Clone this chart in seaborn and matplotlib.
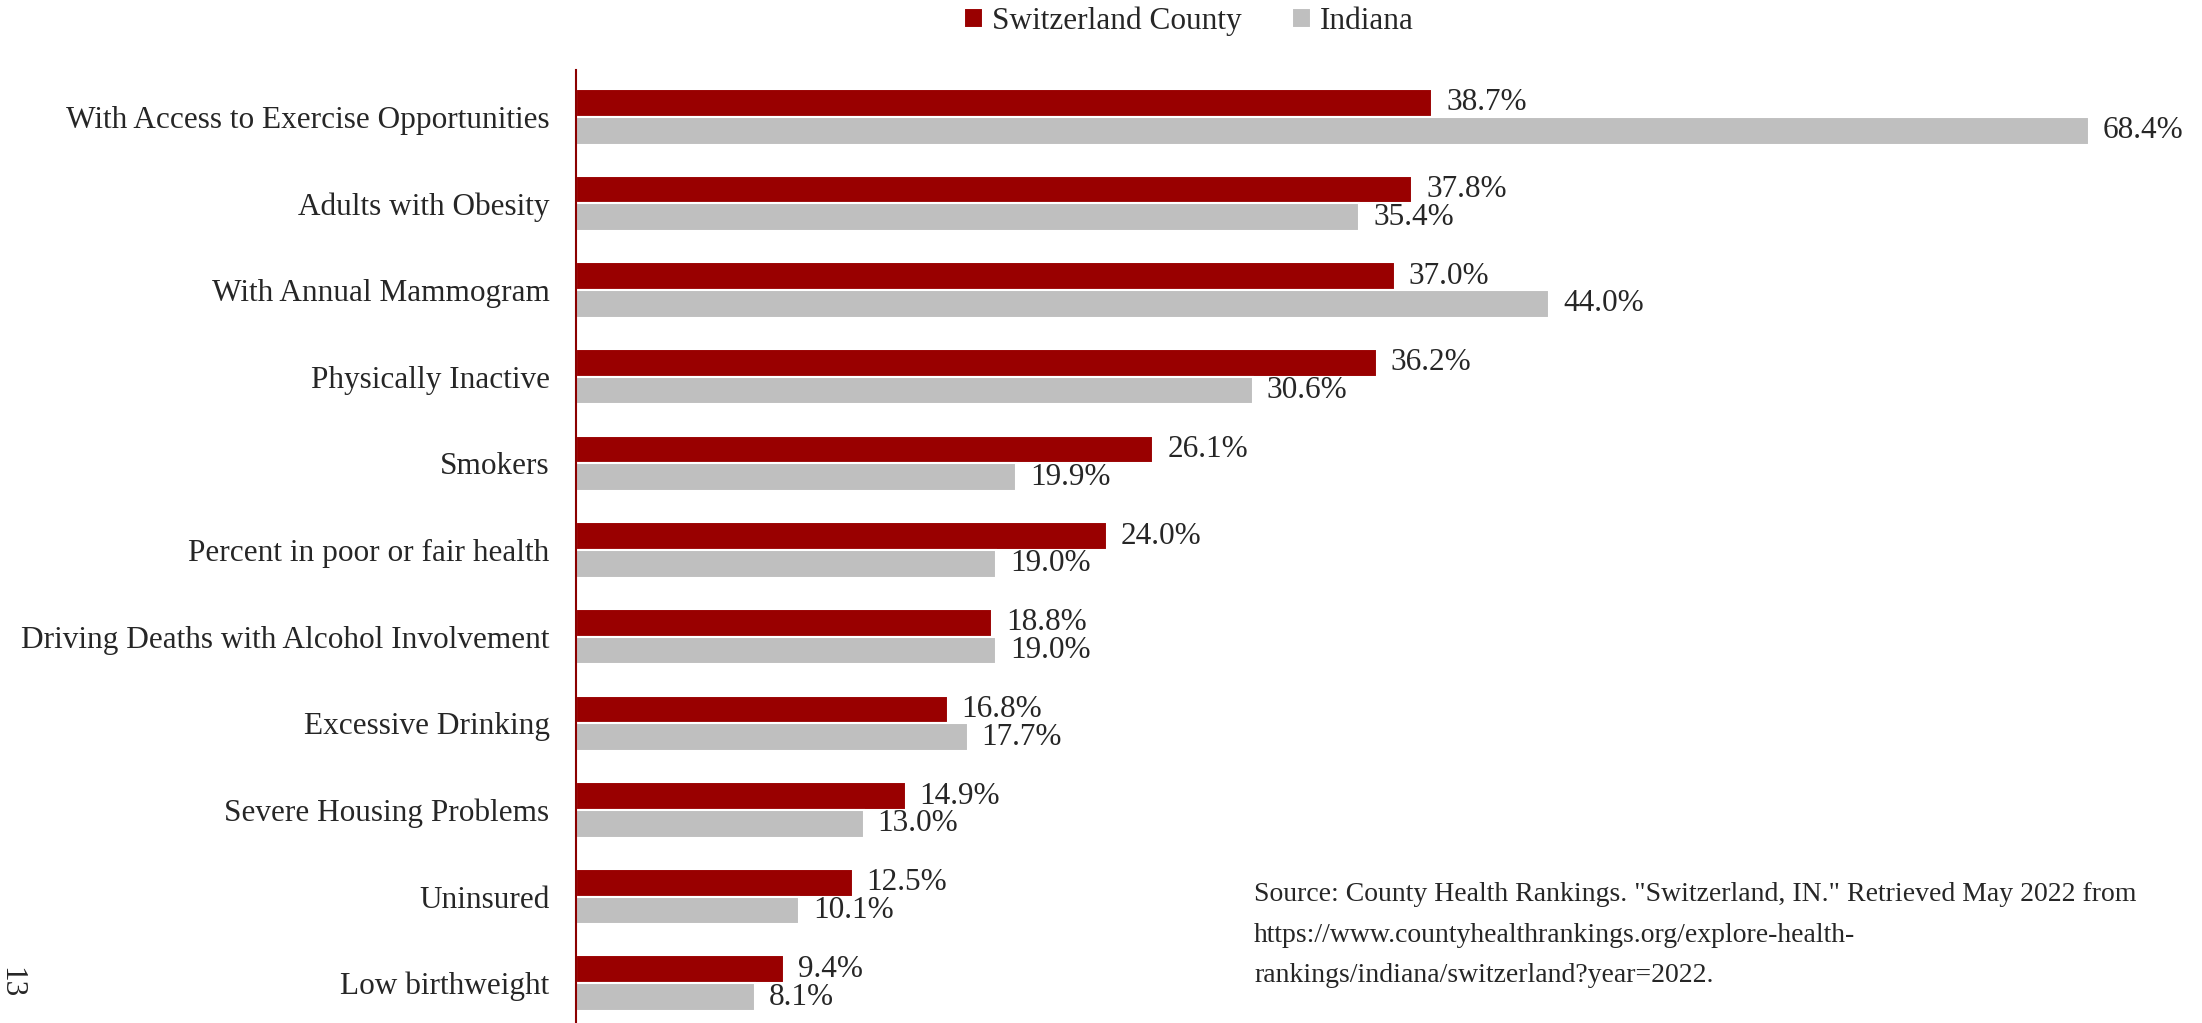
import seaborn as sns
import pandas as pd
import matplotlib.pyplot as plt

categories = ["With Access to Exercise Opportunities", "Adults with Obesity",
              "With Annual Mammogram", "Physically Inactive", "Smokers",
              "Percent in poor or fair health",
              "Driving Deaths with Alcohol Involvement", "Excessive Drinking",
              "Severe Housing Problems", "Uninsured", "Low birthweight"]
county = [38.7, 37.8, 37.0, 36.2, 26.1, 24.0, 18.8, 16.8, 14.9, 12.5, 9.4]
indiana = [68.4, 35.4, 44.0, 30.6, 19.9, 19.0, 19.0, 17.7, 13.0, 10.1, 8.1]
series = ["Switzerland County", "Indiana"]
colors = ["#990000", "#BFBFBF"]
source = ('Source: County Health Rankings. "Switzerland, IN." Retrieved May 2022 from\n'
          'https://www.countyhealthrankings.org/explore-health-\n'
          'rankings/indiana/switzerland?year=2022.')

df = pd.DataFrame({
    "category": categories * 2,
    "value": county + indiana,
    "series": [series[0]] * len(categories) + [series[1]] * len(categories),
})

sns.set_style("white")
plt.rcParams['font.family'] = ['Liberation Serif', 'DejaVu Serif']
FS = 22.5

fig = plt.figure(figsize=(22.02, 10.23), dpi=100)
ax = fig.add_axes([576 / 2202, 0.0, 1 - 576 / 2202, 1 - 70 / 1023])

sns.barplot(data=df, y="category", x="value", hue="series", hue_order=series,
            order=categories, palette=colors, saturation=1, orient="h",
            width=0.64, edgecolor="white", linewidth=1.5, ax=ax)

for cont in ax.containers:
    ax.bar_label(cont, labels=[f"{v:.1f}%" for v in cont.datavalues],
                 padding=10, fontsize=FS)

ax.set_xlim(0, 73.5)
ax.set_ylim(10.46, -0.54)
ax.set_xlabel("")
ax.set_ylabel("")
ax.set_xticks([])
for s in ["top", "right", "bottom"]:
    ax.spines[s].set_visible(False)
ax.spines["left"].set_color("#8B0000")
ax.spines["left"].set_linewidth(1.5)
ax.tick_params(axis="y", length=0, pad=19, labelsize=FS)

ax.legend(loc="center", bbox_to_anchor=(0.54, 0.979), bbox_transform=fig.transFigure,
          ncol=2, frameon=False, fontsize=FS, handlelength=0.6, handleheight=0.6,
          handletextpad=0.3, columnspacing=1.6)

fig.text(1254 / 2202, 1 - 935 / 1023, source, fontsize=20, va="center",
         ha="left", linespacing=1.8)
fig.text(11 / 2202, 1 - 983 / 1023, "13", fontsize=FS, rotation=-90,
         va="center", ha="center")

fig.savefig("out.png", dpi=100)
